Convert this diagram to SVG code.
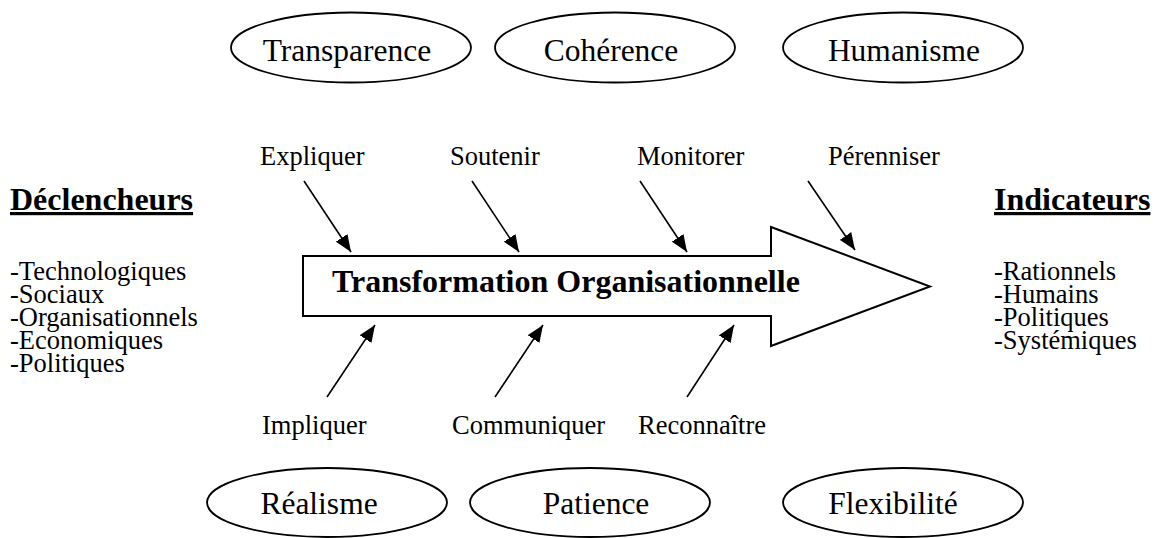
<svg xmlns="http://www.w3.org/2000/svg" width="1160" height="538" viewBox="0 0 1160 538">
<style>
text{font-family:"Liberation Serif","Times New Roman",serif;fill:#000}
.oval{fill:#fff;stroke:#000;stroke-width:1.8}
.ot{font-size:31.5px;text-anchor:middle}
.lb{font-size:26.5px}
.hd{font-size:32px;font-weight:bold;text-decoration:underline}
.main{font-size:32px;font-weight:bold}
.big{fill:#fff;stroke:#000;stroke-width:2}
.con line{stroke:#000;stroke-width:1.6;marker-end:url(#ah)}
</style>
<defs>
<marker id="ah" markerUnits="userSpaceOnUse" markerWidth="18" markerHeight="14" refX="17" refY="7" orient="auto">
<path d="M0,0 L17,7 L0,14 z" fill="#000"/>
</marker>
</defs>
<rect width="1160" height="538" fill="#fff"/>

<g id="transparence"><ellipse class="oval" cx="351" cy="47.5" rx="120" ry="35"/><text class="ot" x="347" y="61">Transparence</text></g>
<g id="coherence"><ellipse class="oval" cx="615" cy="47.5" rx="120" ry="35"/><text class="ot" x="611" y="61">Cohérence</text></g>
<g id="humanisme"><ellipse class="oval" cx="903" cy="47.5" rx="120" ry="35"/><text class="ot" x="904" y="61">Humanisme</text></g>

<g id="realisme"><ellipse class="oval" cx="327" cy="502.5" rx="120" ry="34.5"/><text class="ot" x="319" y="514">Réalisme</text></g>
<g id="patience"><ellipse class="oval" cx="590" cy="502.5" rx="120" ry="34.5"/><text class="ot" x="596" y="514">Patience</text></g>
<g id="flexibilite"><ellipse class="oval" cx="903" cy="502.5" rx="120" ry="34.5"/><text class="ot" x="893" y="514">Flexibilité</text></g>

<g id="transformation">
<path class="big" d="M303,256 L771,256 L771,227 L930,286.5 L771,346 L771,316 L303,316 Z"/>
<text class="main" x="332" y="292">Transformation Organisationnelle</text>
</g>

<g id="declencheurs">
<text class="hd" x="10" y="210">Déclencheurs</text>
<text class="lb" x="10" y="280">-Technologiques</text>
<text class="lb" x="10" y="303">-Sociaux</text>
<text class="lb" x="10" y="326">-Organisationnels</text>
<text class="lb" x="10" y="349">-Economiques</text>
<text class="lb" x="10" y="372">-Politiques</text>
</g>

<g id="indicateurs">
<text class="hd" x="994" y="210">Indicateurs</text>
<text class="lb" x="994" y="280">-Rationnels</text>
<text class="lb" x="994" y="303">-Humains</text>
<text class="lb" x="994" y="326">-Politiques</text>
<text class="lb" x="994" y="349">-Systémiques</text>
</g>

<g id="expliquer"><text class="lb" x="260" y="165">Expliquer</text></g>
<g id="soutenir"><text class="lb" x="450" y="165">Soutenir</text></g>
<g id="monitorer"><text class="lb" x="637" y="165">Monitorer</text></g>
<g id="perenniser"><text class="lb" x="828" y="165">Pérenniser</text></g>
<g id="impliquer"><text class="lb" x="262" y="434">Impliquer</text></g>
<g id="communiquer"><text class="lb" x="452" y="434">Communiquer</text></g>
<g id="reconnaitre"><text class="lb" x="638" y="434">Reconnaître</text></g>

<g id="connectors" class="con">
<line x1="304" y1="181" x2="351" y2="252"/>
<line x1="472" y1="181" x2="519" y2="252"/>
<line x1="640" y1="181" x2="687" y2="252"/>
<line x1="808" y1="181" x2="855" y2="250"/>
<line x1="327" y1="397" x2="375" y2="325"/>
<line x1="495" y1="397" x2="543" y2="325"/>
<line x1="687" y1="397" x2="734" y2="325"/>
</g>
</svg>
